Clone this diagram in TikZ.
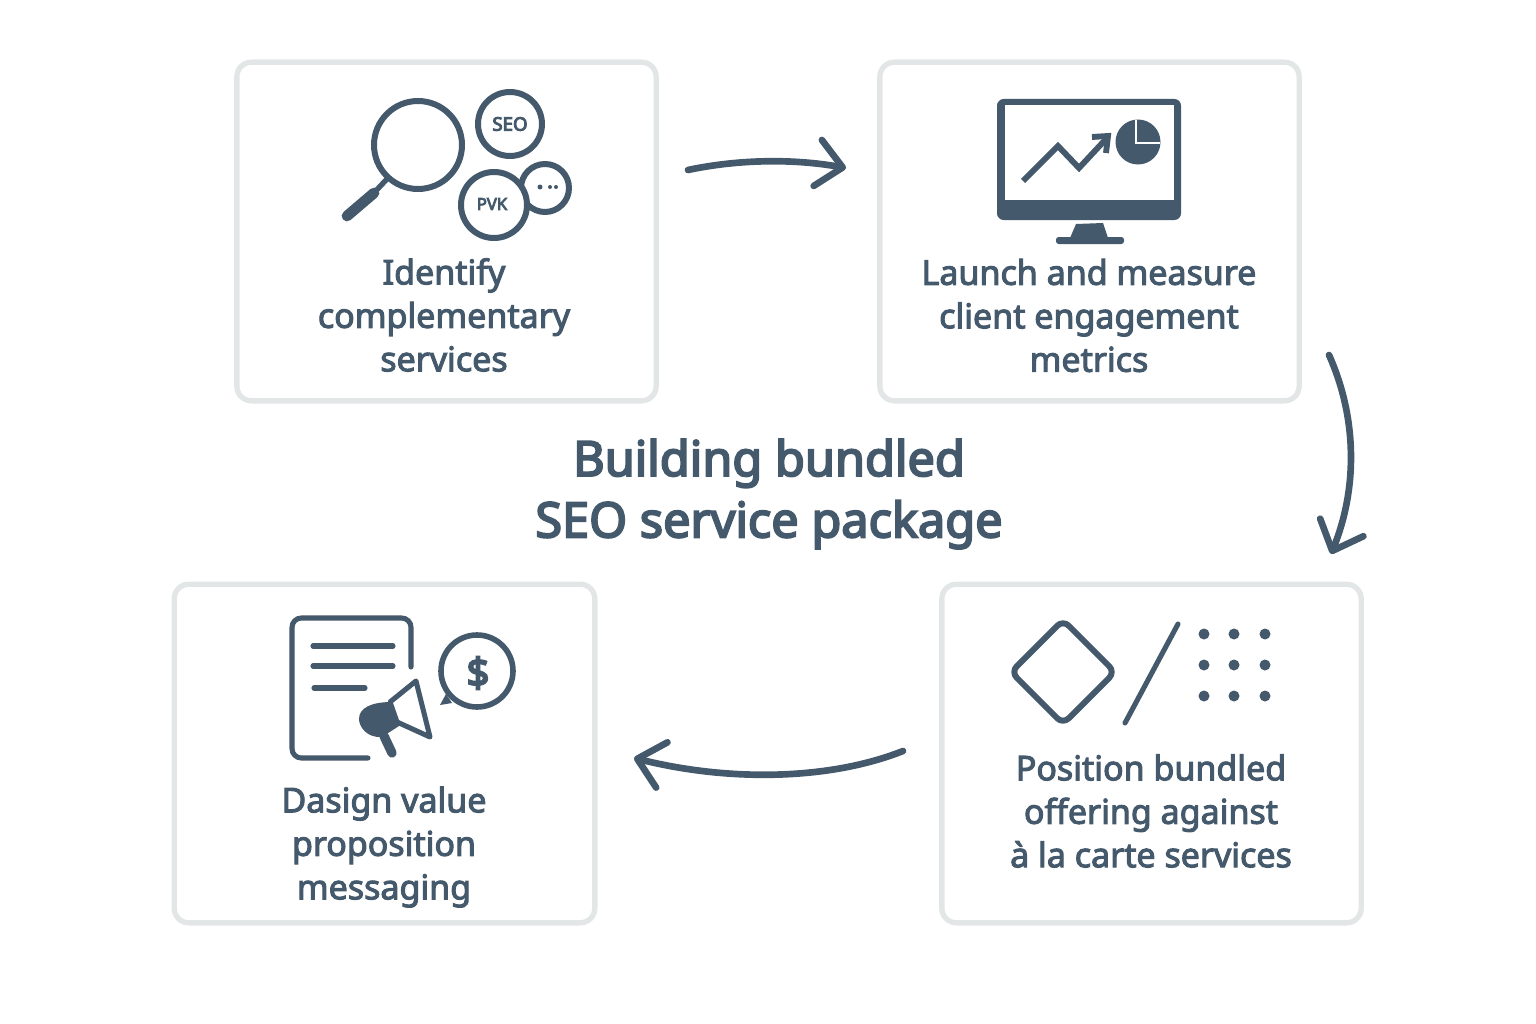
\documentclass[tikz,border=0pt]{standalone}
\usepackage{fontspec}
\usetikzlibrary{arrows.meta}
\setmainfont{Noto Sans}[RawFeature={embolden=3}]
\newfontfamily\titlefont{Noto Sans}[RawFeature={embolden=4}]
\newfontfamily\iconfont{Noto Sans}[RawFeature={embolden=5}]
\definecolor{ink}{HTML}{44596B}
\definecolor{rim}{HTML}{E3E6E7}
\tikzset{
  card/.style={draw=rim,fill=white,line width=4pt,rounded corners=11pt,inner sep=0pt,minimum height=254pt},
  label/.style={text=ink,align=center,inner sep=0pt,font=\fontsize{25.5}{32.6}\selectfont},
  heading/.style={text=ink,align=center,inner sep=0pt,font=\titlefont\fontsize{36.5}{46}\selectfont},
  flow/.style={draw=ink,line width=5pt,line cap=round,line join=round,-{Straight Barb[length=19pt,width=35pt,round]}},
  icon/.style={draw=ink,line width=4.5pt,line cap=round,line join=round},
  iconthin/.style={draw=ink,line width=3.8pt,line cap=round,line join=round}
}
\begin{document}
\begin{tikzpicture}[x=.75pt,y=-.75pt]
\useasboundingbox (0,0) rectangle (1536,1024);
% cards
\node[card,minimum width=314.5pt] (identify) at (446.5,231.5) {};
\node[card,minimum width=314.5pt] (launch) at (1089.5,231.5) {};
\node[card,minimum width=314.5pt] (position) at (1151.5,753.5) {};
\node[card,minimum width=315.5pt] (design) at (384.5,753.5) {};
% labels
\node[label] (lab1) at (444,315) {Identify\\complementary\\services};
\node[label] (lab2) at (1089,315.5) {Launch and measure\\client engagement\\metrics};
\node[label] (lab3) at (1151,811) {Position bundled\\offering against\\à la carte services};
\node[label] (lab4) at (384,847) {Dasign value\\proposition\\messaging};
\node[heading] (title) at (769,494) {Building bundled\\SEO service package};
% connectors
\coordinate (a1) at (688,170); \coordinate (a2) at (846,168);
\coordinate (b1) at (1329,355); \coordinate (b2) at (1331,554);
\coordinate (c1) at (903,751); \coordinate (c2) at (634,758);
\draw[flow] (a1) .. controls (735,160) and (790,158) .. (a2);
\draw[flow] (b1) .. controls (1358,420) and (1357,490) .. (b2);
\draw[flow] (c1) .. controls (830,780) and (730,782) .. (c2);
% magnifier and service circles
\draw[icon] (418,145) circle (44);
\draw[icon,line width=4pt] (386,180) -- (372,195);
\draw[icon,line width=8pt] (374,193) -- (347,216);
\draw[icon] (510,124) circle (32);
\node[text=ink,font=\iconfont\fontsize{14}{14}\selectfont,inner sep=0pt] (seo) at (510,124) {SEO};
\draw[icon,fill=white] (545,188) circle (24);
\fill[ink] (540,187) circle (2.5) (550,187) circle (2) (556,187) circle (2);
\draw[icon,fill=white] (494,205) circle (33);
\node[text=ink,font=\iconfont\fontsize{12.5}{12.5}\selectfont,inner sep=0pt] (pwc) at (492,204) {PVK};
% monitor
\fill[ink,rounded corners=5pt] (997,99) rectangle (1181,220);
\fill[white] (1005,105) rectangle (1174,200);
\fill[ink] (1076,224) -- (1103,223) -- (1108,238) -- (1070,238) -- cycle;
\fill[ink,rounded corners=2pt] (1056,237) rectangle (1124,244);
\draw[icon,line width=4.4pt,line cap=butt,line join=miter] (1023,181) -- (1058,146) -- (1079,168) -- (1106,139);
\draw[icon,line width=4.4pt,line cap=butt,line join=miter] (1092,137) -- (1108,136) -- (1106,153);
\fill[ink] (1138,142) circle (22.5);
\draw[white,line width=1.2pt] (1136,120) -- (1136,143) -- (1160,143);
% diamond, slash, dots
\draw[icon,rounded corners=6pt] (1063,620) -- (1115,672) -- (1063,724) -- (1011,672) -- cycle;
\draw[iconthin] (1178,624) -- (1125,723);
\foreach \x in {1204,1234,1265}
  \foreach \y in {634,665,696}
    \fill[ink] (\x,\y) circle (5.5);
% document
\draw[iconthin,rounded corners=7pt] (411,667) -- (411,618) -- (292,618) -- (292,758) -- (368,758);
\draw[iconthin] (313,646) -- (393,646);
\draw[iconthin] (313,666) -- (393,666);
\draw[iconthin] (314,688) -- (365,688);
% megaphone
\draw[iconthin,fill=white] (390,702) -- (416,681) -- (430,737) -- (397,722) -- cycle;
\fill[ink] (392,702) -- (399,726) -- (382,737) .. controls (366,738) and (359,726) .. (359,719) .. controls (359,708) and (371,702) .. (392,702) -- cycle;
\draw[icon,line width=7pt] (384,736) -- (392,753);
% speech bubble
\draw[icon,line width=4.2pt] (477,671) circle (36);
\fill[ink] (446,694) -- (440,705) -- (452,703) -- cycle;
\node[text=ink,font=\iconfont\fontsize{30}{30}\selectfont,inner sep=0pt] (dollar) at (478,673) {\$};
\end{tikzpicture}
\end{document}
